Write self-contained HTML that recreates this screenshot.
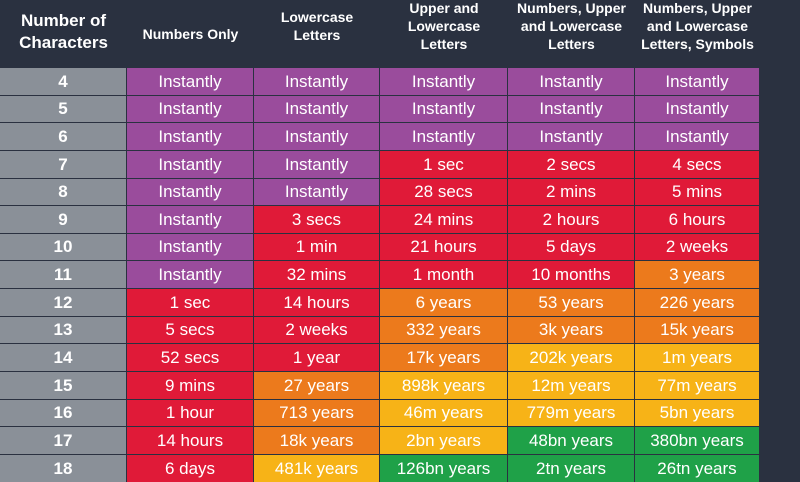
<!DOCTYPE html>
<html><head><meta charset="utf-8"><style>
body{margin:0;width:800px;height:481px;overflow:hidden;background:#2a3140;font-family:"Liberation Sans",sans-serif;}
.h{position:absolute;top:0;height:68px;display:flex;align-items:center;justify-content:center;text-align:center;color:#fff;font-weight:bold;font-size:14px;line-height:18px;}
.c{position:absolute;height:26.6px;display:flex;align-items:center;justify-content:center;color:#fff;font-size:17px;box-sizing:border-box;}
</style></head><body>
<div class="h" style="left:0;width:127px;font-size:17px;line-height:22px;top:-2px">Number of<br>Characters</div>
<div class="h" style="left:127px;width:127px">Numbers Only</div>
<div class="h" style="left:254px;width:126px;top:-8px">Lowercase<br>Letters</div>
<div class="h" style="left:380px;width:128px;top:-8px">Upper and<br>Lowercase<br>Letters</div>
<div class="h" style="left:508px;width:127px;top:-8px">Numbers, Upper<br>and Lowercase<br>Letters</div>
<div class="h" style="left:635px;width:125px;top:-8px">Numbers, Upper<br>and Lowercase<br>Letters, Symbols</div>
<div id="t"></div>
<script>
var C={P:"#9a4c9c",R:"#e01a38",O:"#ec7a1c",Y:"#f7b317",G:"#1fa148"};
var rows=[
[4,"PPPPP",["Instantly","Instantly","Instantly","Instantly","Instantly"]],
[5,"PPPPP",["Instantly","Instantly","Instantly","Instantly","Instantly"]],
[6,"PPPPP",["Instantly","Instantly","Instantly","Instantly","Instantly"]],
[7,"PPRRR",["Instantly","Instantly","1 sec","2 secs","4 secs"]],
[8,"PPRRR",["Instantly","Instantly","28 secs","2 mins","5 mins"]],
[9,"PRRRR",["Instantly","3 secs","24 mins","2 hours","6 hours"]],
[10,"PRRRR",["Instantly","1 min","21 hours","5 days","2 weeks"]],
[11,"PRRRO",["Instantly","32 mins","1 month","10 months","3 years"]],
[12,"RROOO",["1 sec","14 hours","6 years","53 years","226 years"]],
[13,"RROOO",["5 secs","2 weeks","332 years","3k years","15k years"]],
[14,"RROYY",["52 secs","1 year","17k years","202k years","1m years"]],
[15,"ROYYY",["9 mins","27 years","898k years","12m years","77m years"]],
[16,"ROYYY",["1 hour","713 years","46m years","779m years","5bn years"]],
[17,"ROYGG",["14 hours","18k years","2bn years","48bn years","380bn years"]],
[18,"RYGGG",["6 days","481k years","126bn years","2tn years","26tn years"]]];
var xs=[0,127,254,380,508,635,760],h="";
rows.forEach(function(r,i){var y=Math.round(68+i*27.64),y2=Math.round(68+(i+1)*27.64),hh=y2-y-1;
h+='<div class="c" style="left:0;width:126px;height:'+hh+'px;top:'+y+'px;background:#8a9098;font-weight:bold">'+r[0]+'</div>';
for(var j=0;j<5;j++){h+='<div class="c" style="left:'+(xs[j+1])+'px;width:'+(xs[j+2]-xs[j+1]-1)+'px;height:'+hh+'px;top:'+y+'px;background:'+C[r[1][j]]+'">'+r[2][j]+'</div>';}
});
document.getElementById("t").innerHTML=h;
</script>
</body></html>
